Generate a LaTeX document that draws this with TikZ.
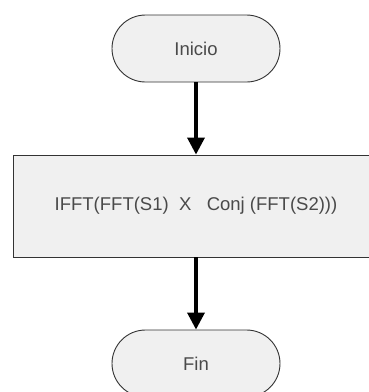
\documentclass[tikz,border=0pt]{standalone}
\usepackage{fontspec}
\setmainfont{Liberation Sans}
\usetikzlibrary{shapes.misc,arrows.meta}
\definecolor{shapefill}{HTML}{F0F0F0}
\definecolor{shapeline}{HTML}{333333}
\definecolor{labeltext}{HTML}{4A4A4A}
\tikzset{
  terminal/.style={rounded rectangle, draw=shapeline, fill=shapefill, line width=0.9pt,
    minimum width=168pt, minimum height=67pt, inner sep=0pt,
    font=\fontsize{18.5}{20}\selectfont, text=labeltext},
  process/.style={rectangle, draw=shapeline, fill=shapefill, line width=0.9pt,
    minimum width=366pt, minimum height=102pt, inner sep=0pt,
    font=\fontsize{18.5}{20}\selectfont, text=labeltext},
  flow/.style={line width=3.5pt, -{Triangle[length=17pt,width=17pt]}, shorten >=0pt}
}
\begin{document}
\begin{tikzpicture}[x=1pt,y=-1pt]
  \useasboundingbox (0,0) rectangle (369,392);
  \clip (0,0) rectangle (369,392);
  \fill[white] (0,0) rectangle (369,392);
  \node[terminal] (inicio) at (196,48.5) {Inicio};
  \node[process]  (calc)   at (196,206) {IFFT(FFT(S1)\ \ X\ \ \ Conj (FFT(S2)))};
  \node[terminal] (fin)    at (196,363.5) {Fin};
  \draw[flow] (inicio.south) -- (calc.north);
  \draw[flow] (calc.south) -- (fin.north);
\end{tikzpicture}
\end{document}
